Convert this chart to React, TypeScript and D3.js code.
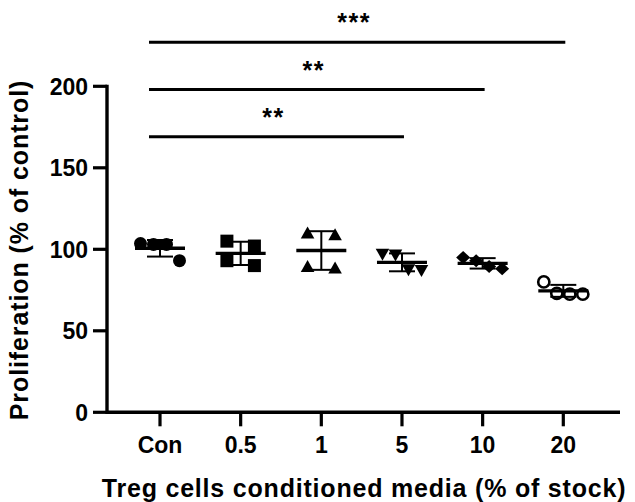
import React from "react";
import * as d3 from "d3";

const categories = ["Con", "0.5", "1", "5", "10", "20"];
const conValues = [103.5, 103, 103, 93];
const halfValues = [105, 102, 93, 90];
const oneValues = [110, 109, 89.5, 88.5];
const fiveValues = [97, 96.5, 87.5, 87];
const tenValues = [95, 93, 89.5, 88];
const twentyValues = [80, 73, 72.5, 72.5];
const seriesValues = [conValues, halfValues, oneValues, fiveValues, tenValues, twentyValues];
const markerKinds = ["circle", "square", "triangleUp", "triangleDown", "diamond", "openCircle"];
const yTicks = [0, 50, 100, 150, 200];
const comparisons = [
  { from: "Con", to: "5", label: "**" },
  { from: "Con", to: "10", label: "**" },
  { from: "Con", to: "20", label: "***" },
];
const xTitle = "Treg cells conditioned media (% of stock)";
const yTitle = "Proliferation (% of control)";

const W = 635, H = 502;
const FONT = "'Liberation Sans', Arial, sans-serif";

function offsets(values: number[]): number[] {
  const n = values.length;
  const idx = d3.range(n).sort((a, b) => values[b] - values[a]);
  const res = new Array(n).fill(0);
  const range = (d3.max(values) as number) - (d3.min(values) as number);
  if (range <= 12) {
    idx.forEach((i, r) => { res[i] = (r - (n - 1) / 2) * 13; });
  } else {
    let best = 0, gap = -1;
    for (let r = 0; r < n - 1; r++) {
      const g = values[idx[r]] - values[idx[r + 1]];
      if (g > gap) { gap = g; best = r; }
    }
    const rows = [idx.slice(0, best + 1), idx.slice(best + 1)];
    rows.forEach(row => row.forEach((i, j) => { res[i] = (j - (row.length - 1) / 2) * 27.5; }));
  }
  return res;
}

function Marker({ kind, cx, cy }: { kind: string; cx: number; cy: number }) {
  const s = 6.5;
  switch (kind) {
    case "circle":
      return <circle cx={cx} cy={cy} r={6.5} fill="#000" />;
    case "openCircle":
      return <circle cx={cx} cy={cy} r={5.6} fill="none" stroke="#000" strokeWidth={2.6} />;
    case "square":
      return <rect x={cx - s} y={cy - s} width={2 * s} height={2 * s} fill="#000" />;
    case "triangleUp":
      return <path d={`M${cx},${cy - 6.5}L${cx + 6.8},${cy + 5.5}L${cx - 6.8},${cy + 5.5}Z`} fill="#000" />;
    case "triangleDown":
      return <path d={`M${cx},${cy + 6.5}L${cx + 6.8},${cy - 5.5}L${cx - 6.8},${cy - 5.5}Z`} fill="#000" />;
    case "diamond":
      return <path d={`M${cx},${cy - 6.5}L${cx + 7},${cy}L${cx},${cy + 6.5}L${cx - 7},${cy}Z`} fill="#000" />;
    default:
      return null;
  }
}

export default function App() {
  const x = d3.scalePoint<string>().domain(categories).range([160, 563.3]);
  const y = d3.scaleLinear().domain([0, 200]).range([412.3, 86.3]);
  const axisX = 107;
  const bracketBase = 169, bracketStep = 29;

  return (
    <div style={{ position: "absolute", left: 0, top: 0 }}>
      <svg width={W} height={H} style={{ display: "block", background: "#fff" }} fontFamily={FONT}>
        {/* y axis */}
        <line x1={axisX} x2={axisX} y1={y(200) - 1.6} y2={y(0) + 1.6} stroke="#000" strokeWidth={3.4} />
        {yTicks.map(t => (
          <g key={t}>
            <line x1={93} x2={axisX} y1={y(t)} y2={y(t)} stroke="#000" strokeWidth={3.2} />
            <text x={88} y={y(t)} dy="0.36em" textAnchor="end" fontSize={23} fontWeight="bold">{t}</text>
          </g>
        ))}
        {/* x axis */}
        <line x1={axisX} x2={620} y1={y(0)} y2={y(0)} stroke="#000" strokeWidth={3.4} />
        {categories.map(c => (
          <g key={c}>
            <line x1={x(c)} x2={x(c)} y1={y(0)} y2={y(0) + 14} stroke="#000" strokeWidth={3.2} />
            <text x={x(c)} y={453.3} textAnchor="middle" fontSize={23} fontWeight="bold">{c}</text>
          </g>
        ))}
        {/* titles */}
        <text x={364} y={496.7} textAnchor="middle" fontSize={25} fontWeight="bold" letterSpacing={0.8}>{xTitle}</text>
        <text transform={`translate(28,${250}) rotate(-90)`} textAnchor="middle" fontSize={25} fontWeight="bold" letterSpacing={0.9}>{yTitle}</text>

        {/* groups */}
        {categories.map((c, gi) => {
          const vals = seriesValues[gi];
          const m = d3.mean(vals) as number;
          const sd = d3.deviation(vals) as number;
          const cx = x(c) as number;
          const offs = offsets(vals);
          return (
            <g key={c}>
              {vals.map((v, i) => (
                <Marker key={i} kind={markerKinds[gi]} cx={cx + offs[i]} cy={y(v)} />
              ))}
              <line x1={cx} x2={cx} y1={y(m + sd)} y2={y(m - sd)} stroke="#000" strokeWidth={2} />
              <line x1={cx - 13} x2={cx + 13} y1={y(m + sd)} y2={y(m + sd)} stroke="#000" strokeWidth={2} />
              <line x1={cx - 13} x2={cx + 13} y1={y(m - sd)} y2={y(m - sd)} stroke="#000" strokeWidth={2} />
              <line x1={cx - 25} x2={cx + 25} y1={y(m)} y2={y(m)} stroke="#000" strokeWidth={3.4} />
            </g>
          );
        })}

        {/* significance bars */}
        {comparisons.map((cmp, i) => {
          const yy = y(bracketBase + i * bracketStep);
          const x1 = (x(cmp.from) as number) - 11;
          const x2 = (x(cmp.to) as number) + 2;
          return (
            <g key={i}>
              <line x1={x1} x2={x2} y1={yy} y2={yy} stroke="#000" strokeWidth={3} />
              <text x={(x1 + x2) / 2 - 3} y={yy - 11} textAnchor="middle" fontSize={25} fontWeight="bold" letterSpacing={1.5}>{cmp.label}</text>
            </g>
          );
        })}
      </svg>
    </div>
  );
}
